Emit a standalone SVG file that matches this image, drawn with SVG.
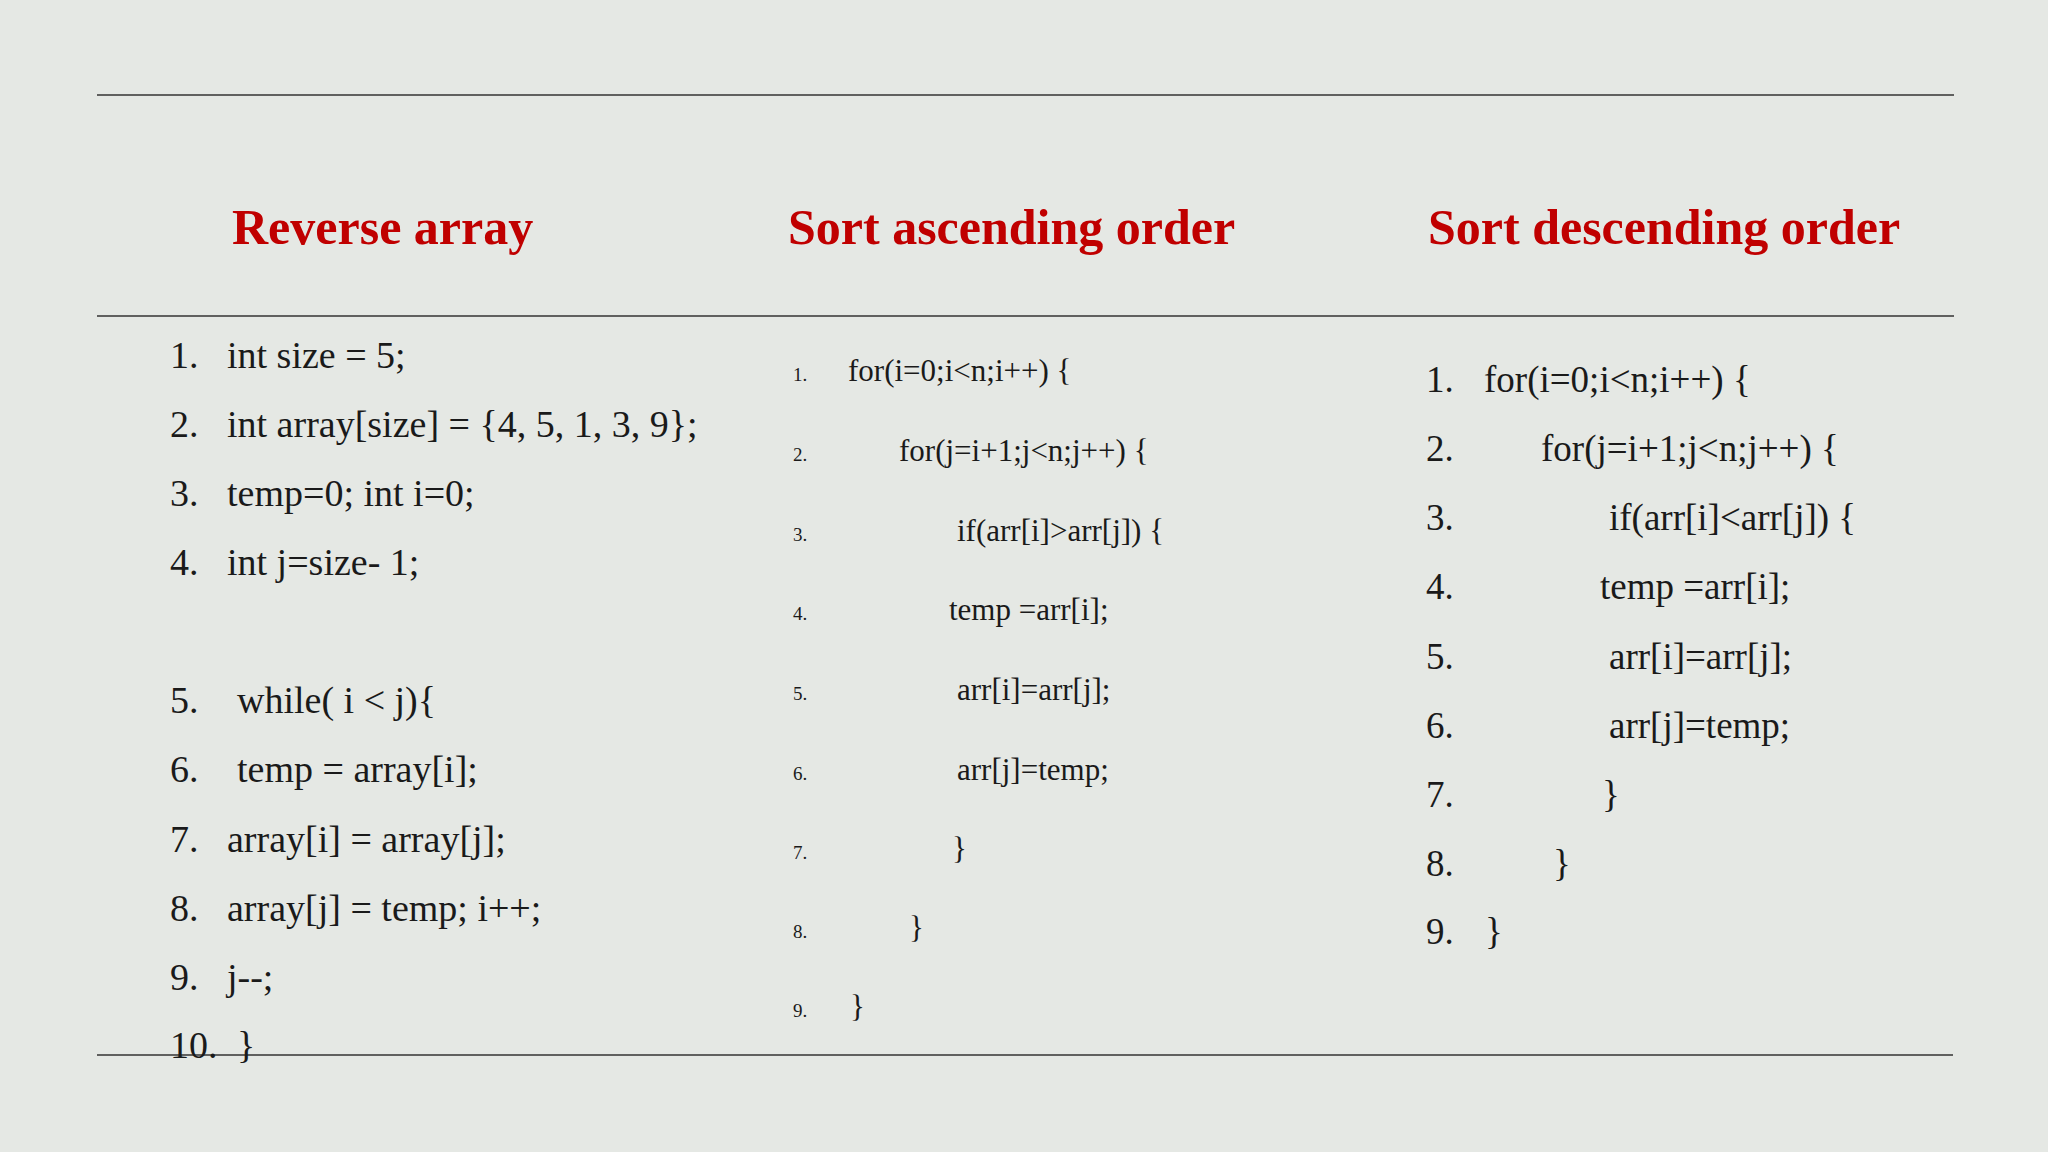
<svg xmlns="http://www.w3.org/2000/svg" width="2048" height="1152" viewBox="0 0 2048 1152">
<style>
.h{font-family:"Liberation Serif",serif;font-weight:bold;font-size:50px;fill:#c00000}
.a{font-family:"Liberation Serif",serif;font-size:38px;fill:#1a1a1a}
.b{font-family:"Liberation Serif",serif;font-size:31px;fill:#1a1a1a}
.bn{font-family:"Liberation Serif",serif;font-size:19px;fill:#1a1a1a}
.c{font-family:"Liberation Serif",serif;font-size:37px;fill:#1a1a1a}
line{stroke:#333;stroke-width:1.5}
</style>
<rect width="2048" height="1152" fill="#e5e8e4"/>
<g id="rules">
<line x1="97" y1="95" x2="1954" y2="95"/>
<line x1="97" y1="316" x2="1954" y2="316"/>
<line x1="97" y1="1055" x2="1953" y2="1055"/>
</g>
<g id="headings">
<text class="h" x="232" y="244">Reverse array</text>
<text class="h" x="788" y="244">Sort ascending order</text>
<text class="h" x="1428" y="244">Sort descending order</text>
</g>
<g id="col1" class="a">
<text class="a" x="170" y="368">1.</text><text class="a" x="227" y="368">int size = 5;</text>
<text class="a" x="170" y="437">2.</text><text class="a" x="227" y="437">int array[size] = {4, 5, 1, 3, 9};</text>
<text class="a" x="170" y="506">3.</text><text class="a" x="227" y="506">temp=0; int i=0;</text>
<text class="a" x="170" y="575">4.</text><text class="a" x="227" y="575">int j=size- 1;</text>
<text class="a" x="170" y="713">5.</text><text class="a" x="237" y="713">while( i &lt; j){</text>
<text class="a" x="170" y="782">6.</text><text class="a" x="237" y="782">temp = array[i];</text>
<text class="a" x="170" y="852">7.</text><text class="a" x="227" y="852">array[i] = array[j];</text>
<text class="a" x="170" y="921">8.</text><text class="a" x="227" y="921">array[j] = temp; i++;</text>
<text class="a" x="170" y="990">9.</text><text class="a" x="227" y="990">j--;</text>
<text class="a" x="170" y="1058">10.</text><text class="a" x="237" y="1058">}</text>
</g>
<g id="col2">
<text class="bn" x="793" y="381">1.</text><text class="b" x="848" y="381">for(i=0;i&lt;n;i++) {</text>
<text class="bn" x="793" y="461">2.</text><text class="b" x="899" y="461">for(j=i+1;j&lt;n;j++) {</text>
<text class="bn" x="793" y="541">3.</text><text class="b" x="957" y="541">if(arr[i]&gt;arr[j]) {</text>
<text class="bn" x="793" y="620">4.</text><text class="b" x="949" y="620">temp =arr[i];</text>
<text class="bn" x="793" y="700">5.</text><text class="b" x="957" y="700">arr[i]=arr[j];</text>
<text class="bn" x="793" y="780">6.</text><text class="b" x="957" y="780">arr[j]=temp;</text>
<text class="bn" x="793" y="859">7.</text><text class="b" x="952" y="859">}</text>
<text class="bn" x="793" y="938">8.</text><text class="b" x="909" y="938">}</text>
<text class="bn" x="793" y="1017">9.</text><text class="b" x="850" y="1017">}</text>
</g>
<g id="col3">
<text class="c" x="1426" y="392">1.</text><text class="c" x="1484" y="392">for(i=0;i&lt;n;i++) {</text>
<text class="c" x="1426" y="461">2.</text><text class="c" x="1541" y="461">for(j=i+1;j&lt;n;j++) {</text>
<text class="c" x="1426" y="530">3.</text><text class="c" x="1609" y="530">if(arr[i]&lt;arr[j]) {</text>
<text class="c" x="1426" y="599">4.</text><text class="c" x="1600" y="599">temp =arr[i];</text>
<text class="c" x="1426" y="669">5.</text><text class="c" x="1609" y="669">arr[i]=arr[j];</text>
<text class="c" x="1426" y="738">6.</text><text class="c" x="1609" y="738">arr[j]=temp;</text>
<text class="c" x="1426" y="807">7.</text><text class="c" x="1602" y="807">}</text>
<text class="c" x="1426" y="876">8.</text><text class="c" x="1553" y="876">}</text>
<text class="c" x="1426" y="944">9.</text><text class="c" x="1485" y="944">}</text>
</g>
</svg>
